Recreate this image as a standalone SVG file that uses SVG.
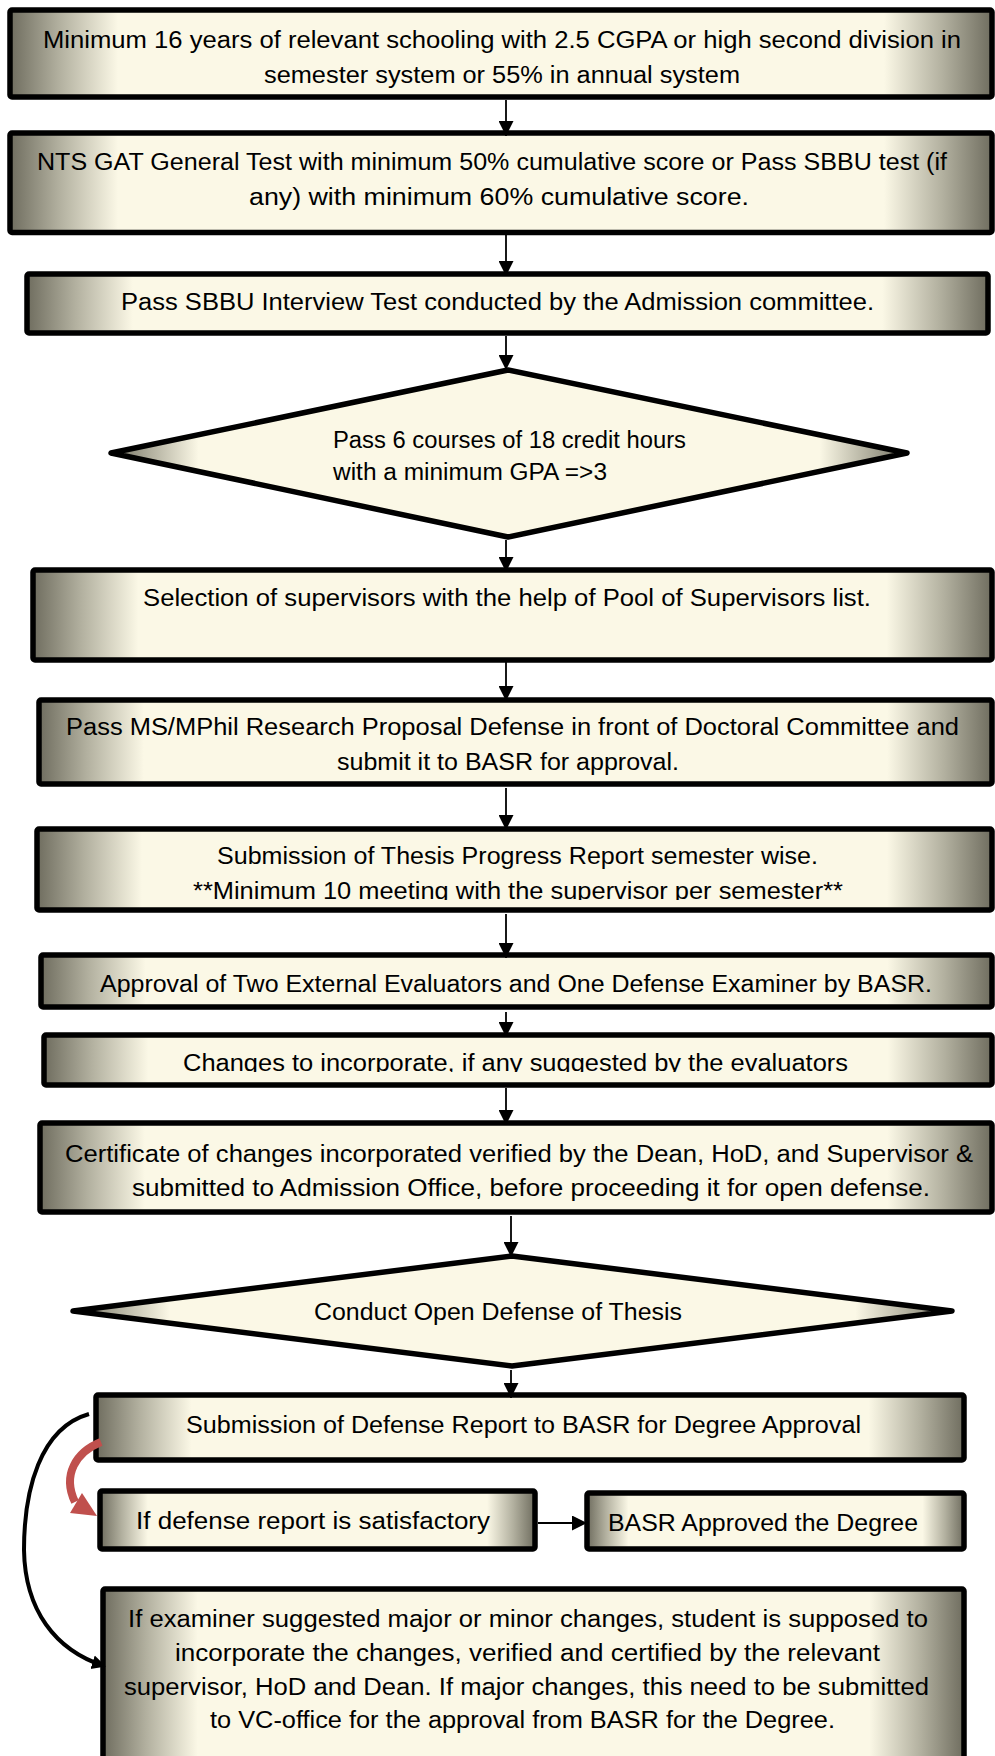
<svg xmlns="http://www.w3.org/2000/svg" width="995" height="1756" viewBox="0 0 995 1756">
<style>
.box{fill:url(#g);stroke:#000;stroke-width:5.5;stroke-linejoin:round}
.t{font-family:"Liberation Sans",Arial,sans-serif;font-size:23px;fill:#000}
.c{fill:none;stroke:#000;stroke-width:1.8}
</style>
<defs>
<linearGradient id="g" x1="0" y1="0" x2="1" y2="0">
<stop offset="0" stop-color="#6f6d5f"/>
<stop offset="0.05" stop-color="#b2b09f"/>
<stop offset="0.11" stop-color="#fbf8e6"/>
<stop offset="0.89" stop-color="#fbf8e6"/>
<stop offset="0.95" stop-color="#b2b09f"/>
<stop offset="1" stop-color="#6f6d5f"/>
</linearGradient>
<marker id="ah" markerUnits="userSpaceOnUse" markerWidth="15" markerHeight="15" refX="15" refY="7.5" orient="auto">
<path d="M0,0 L15,7.5 L0,15 z" fill="#000"/>
</marker>
<marker id="ahc" markerUnits="userSpaceOnUse" markerWidth="16" markerHeight="16" refX="12" refY="8" orient="auto">
<path d="M0,1 L14,8 L0,15 z" fill="#000"/>
</marker>
<clipPath id="clip6"><rect x="0" y="800" width="995" height="100"/></clipPath>
<clipPath id="clip8"><rect x="0" y="1030" width="995" height="42"/></clipPath>
</defs>

<g id="node1">
<rect class="box" x="10" y="10" width="982" height="87" rx="2"/>
<text class="t" x="43" y="48" textLength="918" lengthAdjust="spacingAndGlyphs">Minimum 16 years of relevant schooling with 2.5 CGPA or high second division in</text>
<text class="t" x="264" y="83" textLength="476" lengthAdjust="spacingAndGlyphs">semester system or 55% in annual system</text>
</g>
<g id="node2">
<rect class="box" x="10" y="133" width="982" height="99.5" rx="2"/>
<text class="t" x="37" y="170" textLength="910" lengthAdjust="spacingAndGlyphs">NTS GAT General Test with minimum 50% cumulative score or Pass SBBU test (if</text>
<text class="t" x="249" y="205" textLength="500" lengthAdjust="spacingAndGlyphs">any) with minimum 60% cumulative score.</text>
</g>
<g id="node3">
<rect class="box" x="27" y="274" width="961" height="59" rx="2"/>
<text class="t" x="121" y="310" textLength="753" lengthAdjust="spacingAndGlyphs">Pass SBBU Interview Test conducted by the Admission committee.</text>
</g>
<g id="node4">
<polygon class="box" points="508,370 907,453 508,537 111,453"/>
<text class="t" x="333" y="448" textLength="353" lengthAdjust="spacingAndGlyphs">Pass 6 courses of 18 credit hours</text>
<text class="t" x="333" y="480" textLength="274" lengthAdjust="spacingAndGlyphs">with a minimum GPA =&gt;3</text>
</g>
<g id="node5">
<rect class="box" x="33" y="570" width="959" height="90" rx="2"/>
<text class="t" x="143" y="606" textLength="728" lengthAdjust="spacingAndGlyphs">Selection of supervisors with the help of Pool of Supervisors list.</text>
</g>
<g id="node6">
<rect class="box" x="39" y="700" width="953" height="84" rx="2"/>
<text class="t" x="66" y="735" textLength="893" lengthAdjust="spacingAndGlyphs">Pass MS/MPhil Research Proposal Defense in front of Doctoral Committee and</text>
<text class="t" x="337" y="770" textLength="342" lengthAdjust="spacingAndGlyphs">submit it to BASR for approval.</text>
</g>
<g id="node7">
<rect class="box" x="37" y="829" width="955" height="81" rx="2"/>
<text class="t" x="217" y="864" textLength="601" lengthAdjust="spacingAndGlyphs">Submission of Thesis Progress Report semester wise.</text>
<text class="t" x="193" y="899" textLength="650" lengthAdjust="spacingAndGlyphs" clip-path="url(#clip6)">**Minimum 10 meeting with the supervisor per semester**</text>
</g>
<g id="node8">
<rect class="box" x="41" y="955" width="951" height="52" rx="2"/>
<text class="t" x="100" y="992" textLength="832" lengthAdjust="spacingAndGlyphs">Approval of Two External Evaluators and One Defense Examiner by BASR.</text>
</g>
<g id="node9">
<rect class="box" x="44" y="1035" width="948" height="50" rx="2"/>
<text class="t" x="183" y="1071" textLength="665" lengthAdjust="spacingAndGlyphs" clip-path="url(#clip8)">Changes to incorporate, if any suggested by the evaluators</text>
</g>
<g id="node10">
<rect class="box" x="40" y="1123" width="952" height="89" rx="2"/>
<text class="t" x="65" y="1162" textLength="908" lengthAdjust="spacingAndGlyphs">Certificate of changes incorporated verified by the Dean, HoD, and Supervisor &amp;</text>
<text class="t" x="132" y="1196" textLength="798" lengthAdjust="spacingAndGlyphs">submitted to Admission Office, before proceeding it for open defense.</text>
</g>
<g id="node11">
<polygon class="box" points="512,1256 952,1311 512,1366 73,1311"/>
<text class="t" x="314" y="1320" textLength="368" lengthAdjust="spacingAndGlyphs">Conduct Open Defense of Thesis</text>
</g>
<g id="node12">
<rect class="box" x="96" y="1395" width="868" height="65" rx="2"/>
<text class="t" x="186" y="1433" textLength="675" lengthAdjust="spacingAndGlyphs">Submission of Defense Report to BASR for Degree Approval</text>
</g>
<g id="node13">
<rect class="box" x="100" y="1491" width="435" height="58" rx="2"/>
<text class="t" x="136" y="1529" textLength="354" lengthAdjust="spacingAndGlyphs">If defense report is satisfactory</text>
</g>
<g id="node14">
<rect class="box" x="587" y="1493" width="377" height="56" rx="2"/>
<text class="t" x="608" y="1531" textLength="310" lengthAdjust="spacingAndGlyphs">BASR Approved the Degree</text>
</g>
<g id="node15">
<rect class="box" x="103" y="1589" width="861" height="200" rx="2"/>
<text class="t" x="128" y="1627" textLength="800" lengthAdjust="spacingAndGlyphs">If examiner suggested major or minor changes, student is supposed to</text>
<text class="t" x="175" y="1661" textLength="705" lengthAdjust="spacingAndGlyphs">incorporate the changes, verified and certified by the relevant</text>
<text class="t" x="124" y="1695" textLength="805" lengthAdjust="spacingAndGlyphs">supervisor, HoD and Dean. If major changes, this need to be submitted</text>
<text class="t" x="210" y="1728" textLength="625" lengthAdjust="spacingAndGlyphs">to VC-office for the approval from BASR for the Degree.</text>
</g>

<g id="connectors">
<line class="c" x1="506" y1="100" x2="506" y2="136" marker-end="url(#ah)"/>
<line class="c" x1="506" y1="235" x2="506" y2="276" marker-end="url(#ah)"/>
<line class="c" x1="506" y1="336" x2="506" y2="370" marker-end="url(#ah)"/>
<line class="c" x1="506" y1="540" x2="506" y2="572" marker-end="url(#ah)"/>
<line class="c" x1="506" y1="659" x2="506" y2="701" marker-end="url(#ah)"/>
<line class="c" x1="506" y1="788" x2="506" y2="830" marker-end="url(#ah)"/>
<line class="c" x1="506" y1="914" x2="506" y2="958" marker-end="url(#ah)"/>
<line class="c" x1="506" y1="1012" x2="506" y2="1037" marker-end="url(#ah)"/>
<line class="c" x1="506" y1="1088" x2="506" y2="1125" marker-end="url(#ah)"/>
<line class="c" x1="511" y1="1216" x2="511" y2="1257" marker-end="url(#ah)"/>
<line class="c" x1="511" y1="1370" x2="511" y2="1398" marker-end="url(#ah)"/>
<line class="c" x1="538" y1="1523" x2="587" y2="1523" marker-end="url(#ah)"/>
<path d="M89,1414 C40,1428 24,1490 24,1550 C25,1610 55,1650 104,1666" fill="none" stroke="#000" stroke-width="4" marker-end="url(#ahc)"/>
<path d="M101,1442 C76,1452 62,1475 75,1502" fill="none" stroke="#c0504d" stroke-width="8"/>
<polygon points="97,1516 70,1513 82,1493" fill="#c0504d"/>
</g>
</svg>
